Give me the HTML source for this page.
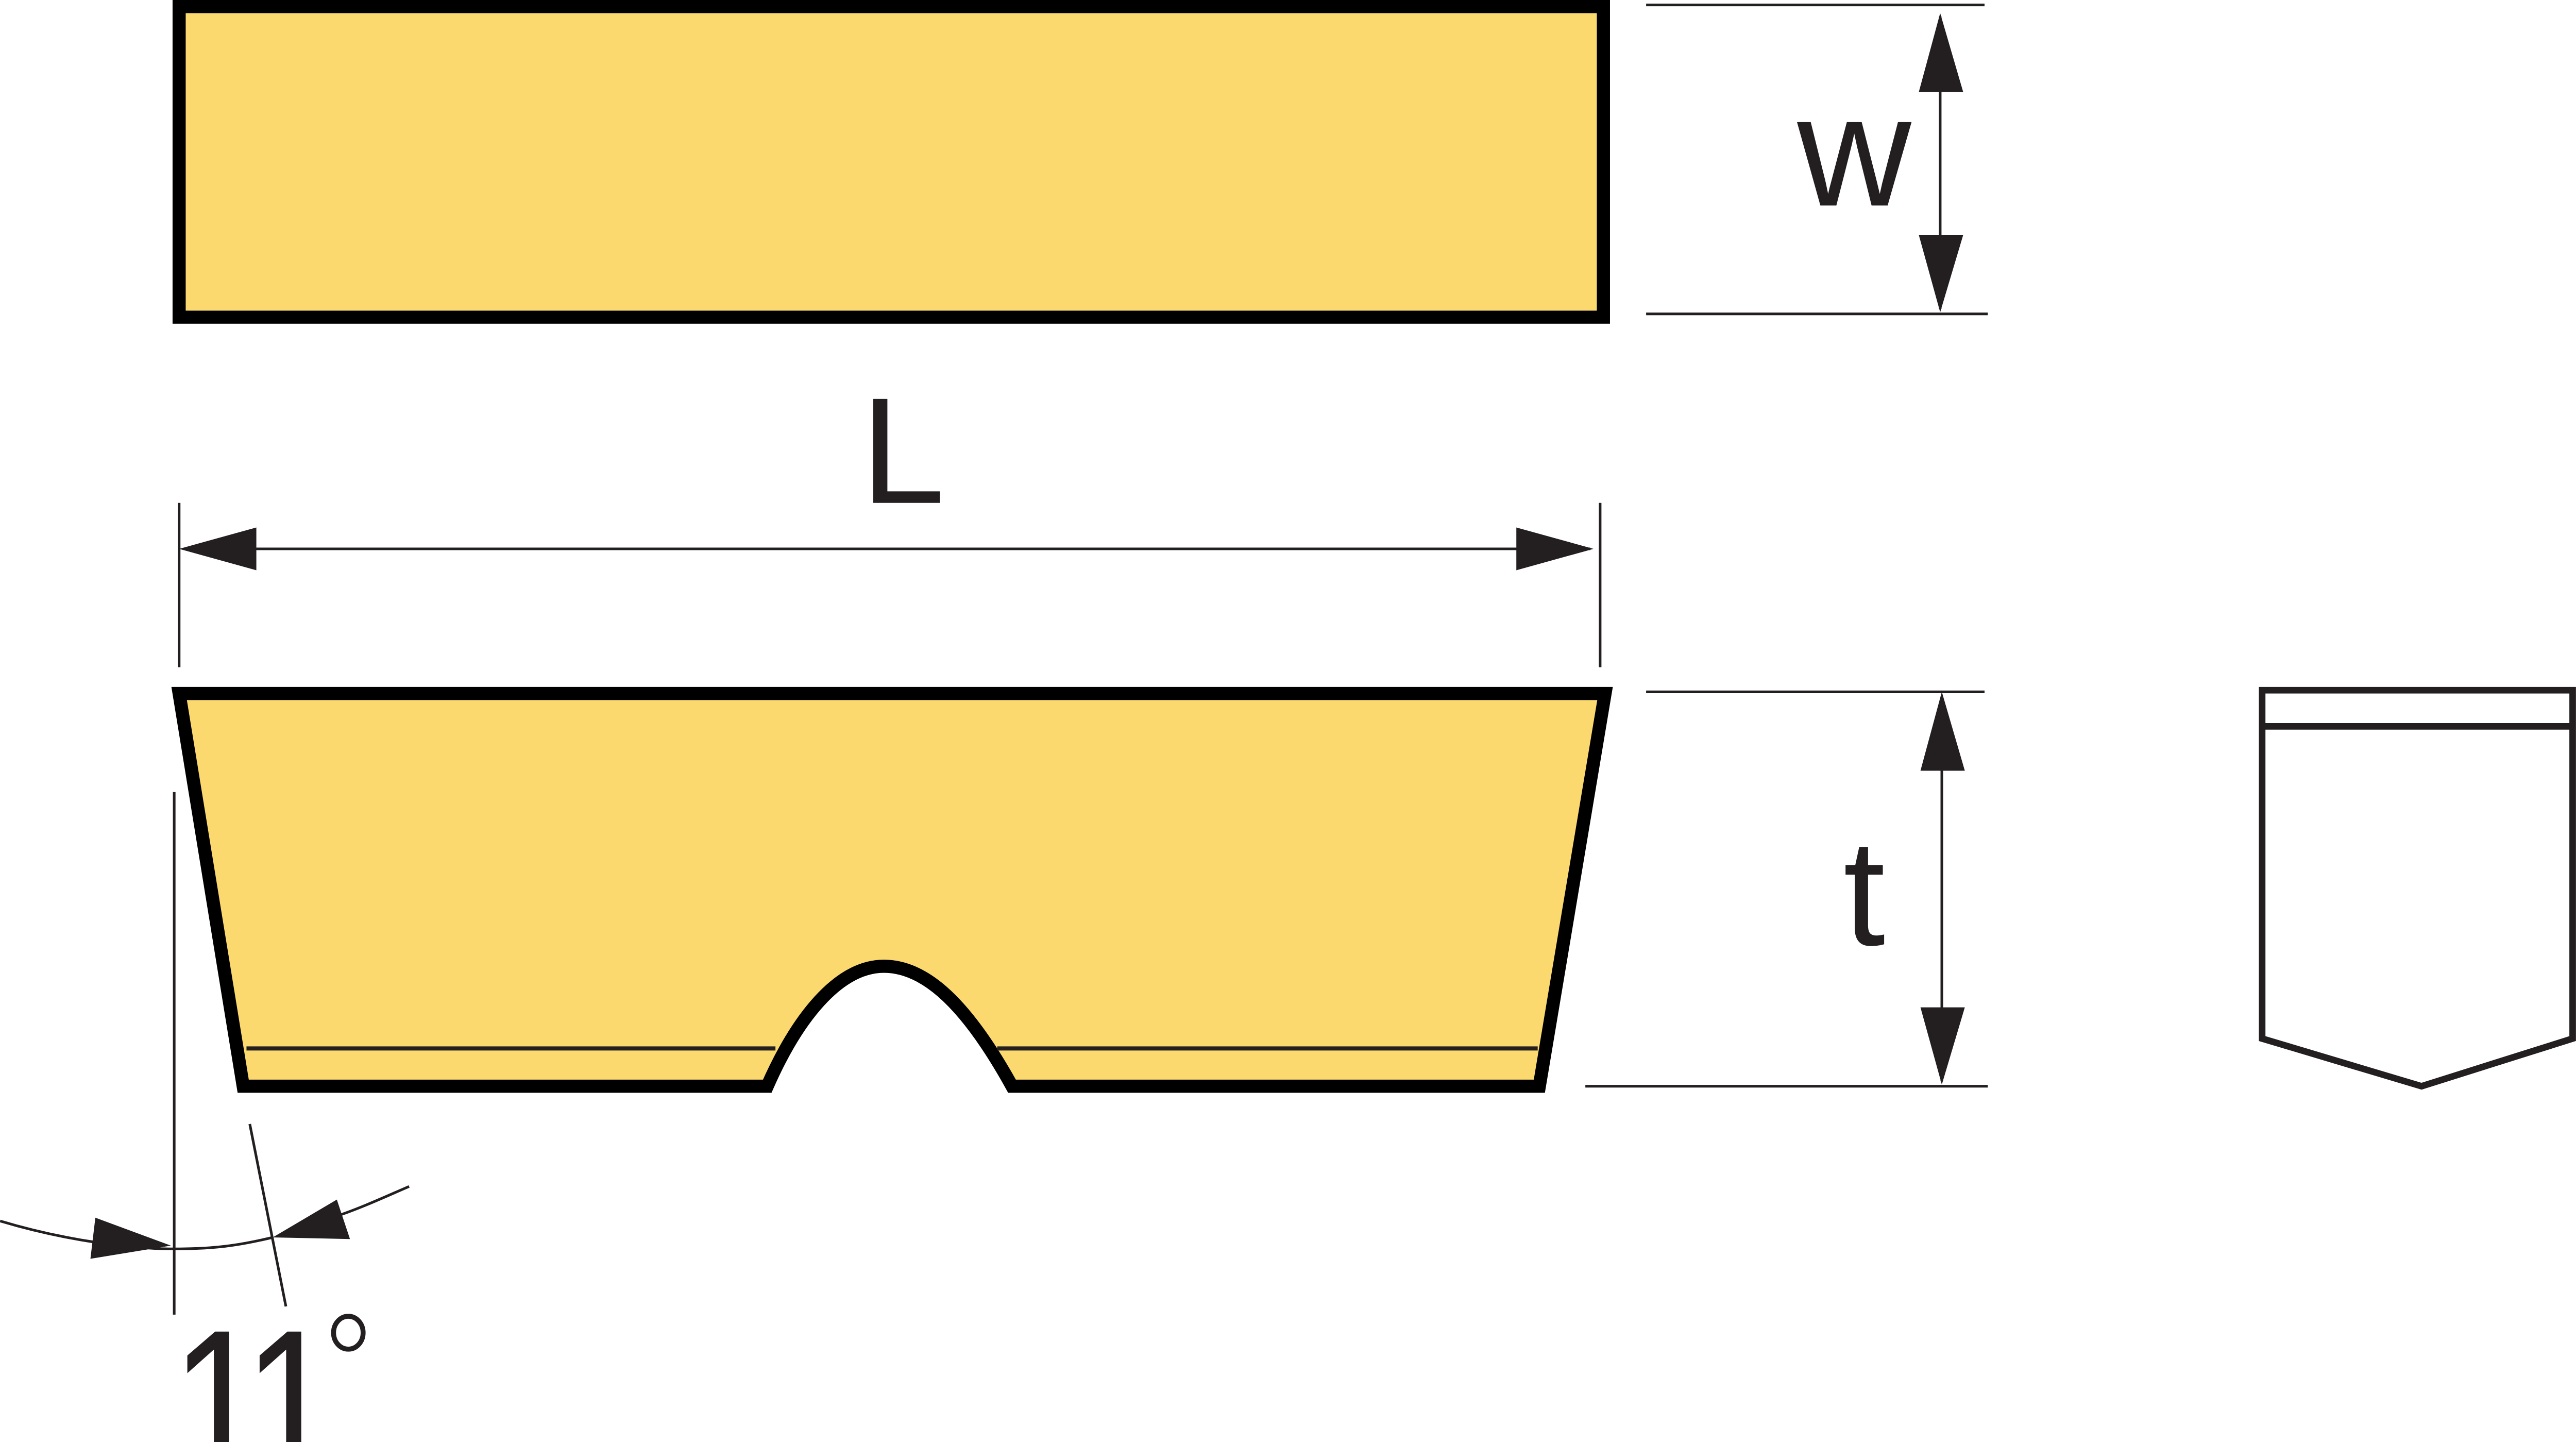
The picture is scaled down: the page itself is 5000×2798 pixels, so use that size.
<!DOCTYPE html>
<html><head><meta charset="utf-8"><style>
html,body{margin:0;padding:0;background:#fff;overflow:hidden;width:5000px;height:2798px;}
svg{display:block;}
.t{font-family:"Liberation Sans",Arial,sans-serif;fill:#231f20;}
</style></head><body>
<svg width="5000" height="2798" viewBox="0 0 1568 877.5" xmlns="http://www.w3.org/2000/svg">
<defs><clipPath id="c"><rect x="0" y="0" width="1568" height="877.5"/></clipPath></defs>
<g fill="none" stroke="#000">
<rect x="109" y="4" width="867" height="189" fill="#FCD96E" stroke-width="8"/>
<path d="M109,422 L977,422 L937,661 L616,661 C585,605 560,588 538,588 C510,588 485,620 467,661 L148,661 Z" fill="#FCD96E" stroke-width="8"/>
</g>
<g stroke="#231f20" stroke-width="2.5" fill="none">
<line x1="150" y1="638" x2="472" y2="638"/>
<line x1="607" y1="638" x2="936" y2="638"/>
</g>
<g stroke="#231f20" stroke-width="1.6" fill="none">
<line x1="1002" y1="3" x2="1208" y2="3"/>
<line x1="1002" y1="191" x2="1210" y2="191"/>
<line x1="1181" y1="10" x2="1181" y2="188"/>
<line x1="109" y1="306" x2="109" y2="406"/>
<line x1="974" y1="306" x2="974" y2="406"/>
<line x1="112" y1="334" x2="968" y2="334"/>
<line x1="1002" y1="421" x2="1208" y2="421"/>
<line x1="965" y1="661" x2="1210" y2="661"/>
<line x1="1182" y1="424" x2="1182" y2="658"/>
<line x1="106" y1="482" x2="106" y2="800"/>
<line x1="152" y1="684" x2="174" y2="795"/>
<path d="M0,743 C40,755 80,760 106,760 C130,760 145,758 166,753"/>
<path d="M205,740 C220,735 235,728 249,722"/>
</g>
<g fill="#231f20">
<polygon points="1181,8 1168,56 1195,56"/>
<polygon points="1181,190 1168,143 1195,143"/>
<polygon points="109,334 156,321 156,347"/>
<polygon points="970,334 923,321 923,347"/>
<polygon points="1182,421 1169,469 1196,469"/>
<polygon points="1182,660 1169,613 1196,613"/>
<polygon points="104,758 58,741 55,766"/>
<polygon points="166,753 205,730 213,754"/>
</g>
<g stroke="#231f20" stroke-width="4" fill="none">
<polygon points="1377,420 1566,420 1566,632 1474,661 1377,632"/>
<line x1="1377" y1="442" x2="1566" y2="442"/>
<ellipse cx="212" cy="811" rx="9" ry="10" stroke-width="3"/>
</g>
<text class="t" x="1094" y="125" font-size="96">w</text>
<text class="t" x="524" y="306" font-size="92">L</text>
<text class="t" x="1122" y="575" font-size="92">t</text>
<g clip-path="url(#c)">
<g transform="translate(0,806) scale(1,1.25)">
<text class="t" x="104" y="75" font-size="104">1</text>
<text class="t" x="148" y="75" font-size="104">1</text>
</g>
</g>
</svg>
</body></html>
